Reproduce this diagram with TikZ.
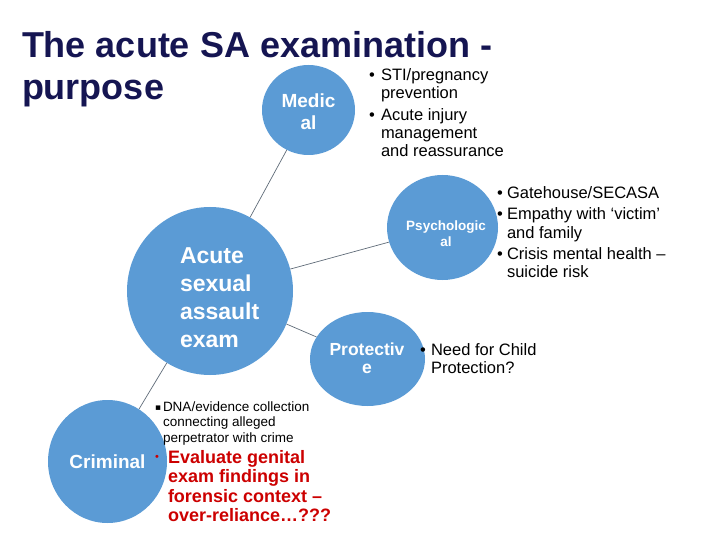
\documentclass[tikz,border=0pt]{standalone}
\usepackage{fontspec}
\setmainfont{Liberation Sans}
\newfontfamily\dejavu{DejaVu Sans}
\usetikzlibrary{shapes.geometric}
\definecolor{bub}{HTML}{5B9BD5}
\definecolor{navy}{HTML}{151552}
\definecolor{redt}{HTML}{CC0000}
\definecolor{linec}{HTML}{5F6B78}
\newcommand\tlinesL[1]{\begin{tabular}[t]{@{}l@{}}#1\end{tabular}}
\newcommand\tlinesC[1]{\begin{tabular}[t]{@{}c@{}}#1\end{tabular}}
\begin{document}
\begin{tikzpicture}[x=1pt,y=-1pt,
  bubble/.style={ellipse, fill=bub, draw=none, inner sep=0pt},
  conn/.style={draw=linec, line width=0.7pt},
  txt/.style={anchor=base west, inner sep=0pt, outer sep=0pt},
  ctxt/.style={anchor=base, inner sep=0pt, outer sep=0pt, text=white},
  bul/.style={txt, font=\fontsize{16.5}{18}\selectfont},
  medtext/.style={txt, font=\fontsize{16.5}{18}\selectfont}
]
\useasboundingbox (0,0) rectangle (720,540);

% title
\node[txt, text=navy, font=\fontsize{36}{42}\selectfont\bfseries] (title) at (22,58)
  {\tlinesL{The acute SA examination -\\purpose}};

% bubbles
\node[bubble, minimum width=166pt, minimum height=168pt] (exam) at (210,291) {};
\node[bubble, minimum width=93pt, minimum height=90pt] (med) at (308.5,110) {};
\node[bubble, minimum width=111pt, minimum height=105pt] (psy) at (442.5,227.5) {};
\node[bubble, minimum width=115pt, minimum height=94pt] (prot) at (367.5,359) {};
\node[bubble, minimum width=119pt, minimum height=123pt] (crim) at (107.5,461.5) {};

% connectors
\draw[conn] (exam) -- (med);
\draw[conn] (exam) -- (psy);
\draw[conn] (exam) -- (prot);
\draw[conn] (exam) -- (crim);

% bubble labels
\node[txt, text=white, font=\fontsize{23}{28.3}\selectfont\bfseries] (examlbl) at (180,263)
  {\tlinesL{Acute\\sexual\\assault\\exam}};
\node[ctxt, font=\fontsize{19}{22}\selectfont\bfseries] (medlbl) at (308.5,108)
  {\tlinesC{Medic\\al}};
\node[ctxt, font=\fontsize{13.5}{16}\selectfont\bfseries] (psylbl) at (446,230)
  {\tlinesC{Psychologic\\al}};
\node[ctxt, font=\fontsize{17.5}{18}\selectfont\bfseries] (protlbl) at (367,355)
  {\tlinesC{Protectiv\\e}};
\node[ctxt, font=\fontsize{19}{22}\selectfont\bfseries] (crimlbl) at (107.5,468)
  {Criminal};

% medical bullets
\node[bul] (mb1) at (369,81) {•};
\node[bul] (mt1) at (381,81) {\tlinesL{STI/pregnancy\\prevention}};
\node[bul] (mb2) at (369,121) {•};
\node[bul] (mt2) at (381,121) {\tlinesL{Acute injury\\management\\and reassurance}};

% psychological bullets
\node[bul] (pb1) at (497,199) {•};
\node[bul] (pt1) at (507,199) {Gatehouse/SECASA};
\node[bul] (pb2) at (497,220) {•};
\node[bul] (pt2) at (507,220) {\tlinesL{Empathy with ‘victim’\\and family}};
\node[bul] (pb3) at (497,259) {•};
\node[bul] (pt3) at (507,259) {\tlinesL{Crisis mental health –\\suicide risk}};

% protective bullet
\node[bul] (rb1) at (420,355) {•};
\node[bul] (rt1) at (431,355) {\tlinesL{Need for Child\\Protection?}};

% criminal bullets
\node[txt, font=\fontsize{9}{10}\dejavu] (cb1) at (155,410) {▪};
\node[txt, font=\fontsize{13.5}{15.5}\selectfont] (ct1) at (163,411)
  {\tlinesL{DNA/evidence collection\\connecting alleged\\perpetrator with crime}};
\node[txt, text=redt, font=\fontsize{11}{12}\selectfont] (cb2) at (155,460) {•};
\node[txt, text=redt, font=\fontsize{18}{19.5}\selectfont\bfseries] (ct2) at (168,463)
  {\tlinesL{Evaluate genital\\exam findings in\\forensic context –\\over-reliance…???}};
\end{tikzpicture}
\end{document}
